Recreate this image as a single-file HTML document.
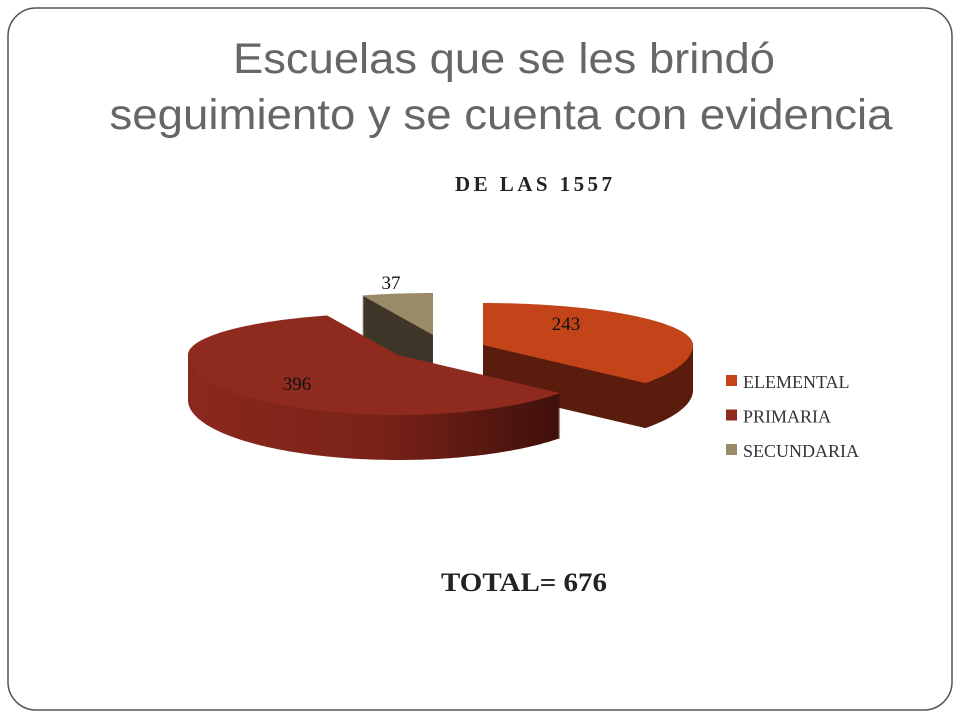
<!DOCTYPE html>
<html><head><meta charset="utf-8"><style>
html,body{margin:0;padding:0;background:#fff;}
svg{display:block;}
</style></head><body>
<svg width="960" height="720" viewBox="0 0 960 720">
<defs>
<linearGradient id="gPrim" x1="190" y1="0" x2="570" y2="0" gradientUnits="userSpaceOnUse">
<stop offset="0" stop-color="#8a281c"/><stop offset="0.5" stop-color="#7a2218"/><stop offset="1" stop-color="#3c0f0a"/>
</linearGradient>
</defs>
<rect x="8" y="8" width="944" height="702" rx="28" fill="#fff" stroke="#555" stroke-width="1.5"/>
<text x="504" y="73" font-family="Liberation Sans, sans-serif" font-size="43" fill="#666" text-anchor="middle" textLength="542" lengthAdjust="spacingAndGlyphs">Escuelas que se les brindó</text>
<text x="501" y="129" font-family="Liberation Sans, sans-serif" font-size="43" fill="#666" text-anchor="middle" textLength="783" lengthAdjust="spacingAndGlyphs">seguimiento y se cuenta con evidencia</text>
<text x="455" y="191" font-family="Liberation Serif, serif" font-size="21" font-weight="bold" fill="#222" textLength="157" lengthAdjust="spacing">DE LAS 1557</text>
<g id="pie"></g>
<g id="legend"></g>
<text x="441" y="591" font-family="Liberation Serif, serif" font-size="26" font-weight="bold" fill="#222" textLength="166" lengthAdjust="spacingAndGlyphs">TOTAL= 676</text>
</svg>
<script>
const categories = ["ELEMENTAL","PRIMARIA","SECUNDARIA"];
const values = [243,396,37];
const NS="http://www.w3.org/2000/svg";
const topColors=["#c4441a","#8f2a1e","#9a8a68"];
const sideColors=["#5a1c0c","url(#gPrim)","#3f3628"];
const apexes=[[483,345],[398,355],[433,335]];
const labelPos=[[566,330],[297,390],[391,289]];
const rx=210, ryBack=42, ryFront=60, depth=45;
const total=values.reduce((a,b)=>a+b,0);
const pie=document.getElementById('pie');
function pt(c,a,dy){const cs=Math.cos(a); const ry=cs>0?ryBack:ryFront; return [c[0]+rx*Math.sin(a), c[1]-ry*cs+dy];}
function path(c,a0,a1,dy){
  let d=`M${c[0]},${c[1]+dy}`;
  const n=Math.max(4,Math.ceil((a1-a0)/0.02));
  for(let k=0;k<=n;k++){const p=pt(c,a0+(a1-a0)*k/n,dy); d+=` L${p[0].toFixed(1)},${p[1].toFixed(1)}`;}
  return d+' Z';
}
let acc=0; const slices=[];
values.forEach((v,i)=>{const a0=acc/total*2*Math.PI; acc+=v; const a1=acc/total*2*Math.PI; slices.push([i,a0,a1]);});
[2,0,1].forEach(idx=>{
  const [i,a0,a1]=slices[idx]; const c=apexes[i];
  const g=document.createElementNS(NS,'g');
  
  
  for(let d=depth; d>0; d-=1){
    const p=document.createElementNS(NS,'path');
    p.setAttribute('d',path(c,a0,a1,d));
    p.setAttribute('fill',sideColors[i]);
    g.appendChild(p);
  }
  const t=document.createElementNS(NS,'path');
  t.setAttribute('d',path(c,a0,a1,0));
  t.setAttribute('fill',topColors[i]);
  g.appendChild(t);
  pie.appendChild(g);
});
values.forEach((v,i)=>{
  const t=document.createElementNS(NS,'text');
  
  
  t.setAttribute('x',labelPos[i][0]); t.setAttribute('y',labelPos[i][1]);
  t.setAttribute('font-family','Liberation Serif, serif'); t.setAttribute('font-size','19');
  t.setAttribute('fill','#111'); t.setAttribute('text-anchor','middle');
  t.textContent=v; pie.appendChild(t);
});
const legend=document.getElementById('legend');
categories.forEach((c,i)=>{
  const y=381+i*34.5;
  const r=document.createElementNS(NS,'rect');
  
  
  r.setAttribute('x',726); r.setAttribute('y',y-6); r.setAttribute('width',11); r.setAttribute('height',11);
  r.setAttribute('fill',topColors[i]); legend.appendChild(r);
  const t=document.createElementNS(NS,'text');
  
  
  t.setAttribute('x',743); t.setAttribute('y',y+7);
  t.setAttribute('font-family','Liberation Serif, serif'); t.setAttribute('font-size','18');
  t.setAttribute('fill','#333'); t.textContent=c; legend.appendChild(t);
});
</script>
</body></html>
